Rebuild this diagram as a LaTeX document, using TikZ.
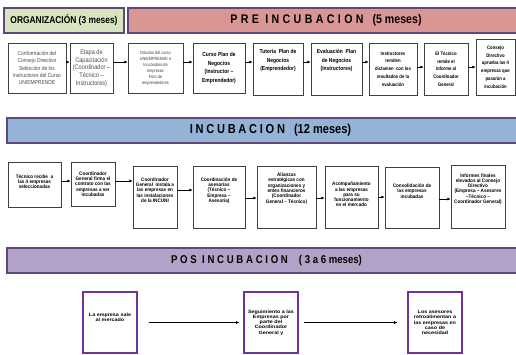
\documentclass[tikz,border=0pt]{standalone}
\usepackage{fontspec}
\setmainfont{Liberation Sans}[FakeStretch=0.85]
\newfontfamily\rowtwo{Liberation Sans}[FakeStretch=0.92]
\newfontfamily\widefont{Liberation Sans}[FakeStretch=1.15]
\usetikzlibrary{arrows.meta}
\definecolor{orgfill}{HTML}{D7E4BD}
\definecolor{prefill}{HTML}{D99694}
\definecolor{incfill}{HTML}{95B3D7}
\definecolor{posfill}{HTML}{B3A2C7}
\definecolor{bandline}{HTML}{5F497A}
\definecolor{posline}{HTML}{7030A0}
\definecolor{boxline}{HTML}{404040}
\newcommand\padbelow[1]{\rule[-#1]{0pt}{#1}}
\tikzset{
  band/.style={draw=bandline, line width=1.6pt, inner sep=0pt},
  box/.style={draw=boxline, line width=0.8pt, fill=white, align=center, inner sep=1pt},
  rowone/.style={box, font=\bfseries\fontsize{5.8}{8.7}\selectfont},
  rowonesmall/.style={box, font=\bfseries\fontsize{5}{7.8}\selectfont},
  rowtwobox/.style={box, font=\rowtwo\bfseries\fontsize{5}{5.3}\selectfont},
  posbox/.style={draw=posline, line width=1.3pt, fill=white, align=center, inner sep=1pt,
    minimum width=54pt, minimum height=61pt, font=\widefont\bfseries\fontsize{4.7}{5.2}\selectfont},
  arr/.style={-{Latex[length=3.2pt,width=3pt]}, line width=0.6pt, black},
}
\begin{document}
\begin{tikzpicture}[x=1pt,y=-1pt]
\useasboundingbox (0,0) rectangle (516,354);
% banners
\node[band, fill=orgfill, minimum width=120pt, minimum height=25pt,
  font=\bfseries\fontsize{9.9}{10}\selectfont] (org) at (64,20.5) {ORGANIZACIÓN (3 meses)};
\node[band, fill=prefill, minimum width=392pt, minimum height=25pt,
  font=\bfseries\fontsize{12.5}{13}\selectfont] (pre) at (324,20.5)
  {\hspace*{4pt}{\addfontfeature{LetterSpace=27}PRE INCUBACION}\hspace{9pt}(5 meses)};
\node[band, fill=incfill, minimum width=513pt, minimum height=25pt,
  font=\bfseries\fontsize{13}{13}\selectfont] (inc) at (263.5,130.5)
  {\hspace*{14pt}{\addfontfeature{LetterSpace=21}INCUBACION}\hspace{9pt}(12 meses)};
\node[band, fill=posfill, minimum width=513pt, minimum height=25pt,
  font=\bfseries\fontsize{11.3}{12}\selectfont] (pos) at (263.5,260.5)
  {\hspace*{6pt}{\addfontfeature{LetterSpace=24}POS INCUBACION}\hspace{11pt}( 3 a 6 meses)};
% row 1
\node[box, minimum width=58pt, minimum height=50pt, text=black!70,
  font=\fontsize{5.8}{7.3}\selectfont] (a1) at (37,68)
  {Conformación del\\Consejo Directivo\\Selección de los\\instructores del Curso\\UNIEMPRENDE};
\node[box, minimum width=43pt, minimum height=50pt, text=black!70,
  font=\fontsize{6.6}{7.7}\selectfont] (a2) at (91.5,68)
  {Etapa de\\Capacitación\\(Coordinador –\\Técnico –\\Instructores)};
\node[box, minimum width=55pt, minimum height=50pt, text=black!75,
  font=\fontsize{4.5}{6}\selectfont] (a3) at (155.5,68)
  {Difusión del curso\\UNIEMPRENDE e\\Incubadora de\\empresas\\Foro de\\emprendedores};
\node[rowone, minimum width=52pt, minimum height=50pt] (a4) at (219,68)
  {Curso Plan de\\Negocios\\(Instructor –\\Emprendedor)};
\node[rowone, minimum width=50pt, minimum height=52pt] (a5) at (278,69)
  {Tutoría\ \ Plan de\\Negocios\\(Emprendedor)\padbelow{18pt}};
\node[rowone, minimum width=51pt, minimum height=52pt] (a6) at (336.5,69)
  {Evaluación\ \ Plan\\de Negocios\\(Instructores)\padbelow{18pt}};
\node[rowonesmall, minimum width=48pt, minimum height=52pt] (a7) at (393,69)
  {Instructores\\remiten\\dictamen\ \ con los\\resultados de la\\evaluación};
\node[rowonesmall, minimum width=44pt, minimum height=52pt] (a8) at (446,69)
  {El Técnico\\remite el\\informe al\\Coordinador\\General};
\node[rowonesmall, minimum width=39pt, minimum height=56pt] (a9) at (495.5,67)
  {Consejo\\Directivo\\aprueba las 4\\empresas que\\pasarán a\\incubación};
% row 2
\node[rowtwobox, minimum width=53pt, minimum height=45pt] (b1) at (34.5,184.5)
  {Técnico recibe\ \ a\\las 4 empresas\\seleccionadas\padbelow{6pt}};
\node[rowtwobox, minimum width=44pt, minimum height=44pt] (b2) at (93,184)
  {Coordinador\\General firma el\\contrato con las\\empresas a ser\\incubadas};
\node[rowtwobox, minimum width=44pt, minimum height=62pt] (b3) at (155,197)
  {Coordinador\\General\ \ instala a\\las empresas en\\las instalaciones\\de la INCUNI\padbelow{14pt}};
\node[rowtwobox, minimum width=52pt, minimum height=62pt] (b4) at (219,197)
  {Coordinación de\\asesorías\\(Técnico –\\Empresa –\\Asesoría)\padbelow{14pt}};
\node[rowtwobox, minimum width=59pt, minimum height=62pt] (b5) at (286.5,197)
  {Alianzas\\estratégicas con\\organizaciones y\\entes financieros\\(Coordinador\\General – Técnico)\padbelow{18pt}};
\node[rowtwobox, minimum width=53pt, minimum height=62pt] (b6) at (351.5,197)
  {Acompañamiento\\a las empresas\\para su\\funcionamiento\\en el mercado\padbelow{5pt}};
\node[rowtwobox, minimum width=54pt, minimum height=61pt] (b7) at (412,197.5)
  {Consolidación de\\las empresas\\incubadas\padbelow{13pt}};
\node[rowtwobox, minimum width=54pt, minimum height=63pt] (b8) at (478,196.5)
  {Informes finales\\elevados al Consejo\\Directivo\\(Empresa – Asesores\\–Técnico –\\Coordinador General)\padbelow{16pt}};
% row 3
\node[posbox] (c1) at (110,322.5) {La empresa sale\\al mercado\padbelow{11pt}};
\node[posbox] (c2) at (271,322.5) {Seguimiento a las\\Empresas por\\parte del\\Coordinador\\General y};
\node[posbox] (c3) at (435,322.5) {Los asesores\\retroalimentan a\\las empresas en\\caso de\\necesidad};
% arrow start points
\path ([yshift=6pt]a1.east) coordinate (p1) ([yshift=6pt]a2.east) coordinate (p2)
      ([yshift=6pt]a3.east) coordinate (p3) ([yshift=6pt]a4.east) coordinate (p4)
      ([yshift=7pt]a5.east) coordinate (p5) ([yshift=7pt]a6.east) coordinate (p6)
      ([yshift=2pt]a7.east) coordinate (p7) ([yshift=2pt]a8.east) coordinate (p8);
\draw[arr] (p1) -- (p1 -| a2.west);
\draw[arr] (p2) -- (p2 -| a3.west);
\draw[arr] (p3) -- (p3 -| a4.west);
\draw[arr] (p4) -- (p4 -| a5.west);
\draw[arr] (p5) -- (p5 -| a6.west);
\draw[arr] (p6) -- (p6 -| a7.west);
\draw[arr] (p7) -- (p7 -| a8.west);
\draw[arr] (p8) -- (p8 -| a9.west);
\path ([yshift=3.5pt]b1.east) coordinate (q1) ([yshift=3pt]b2.east) coordinate (q2)
      ([yshift=7pt]b3.east) coordinate (q3) ([yshift=-1pt]b4.east) coordinate (q4)
      ([yshift=-1pt]b5.east) coordinate (q5) (b6.east) coordinate (q6)
      ([yshift=-1.5pt]b7.east) coordinate (q7);
\draw[arr] (q1) -- (q1 -| b2.west);
\draw[arr] (q2) -- (q2 -| b3.west);
\draw[arr] (q3) -- (q3 -| b4.west);
\draw[arr] (q4) -- (q4 -| b5.west);
\draw[arr] (q5) -- (q5 -| b6.west);
\draw[arr] (q6) -- (q6 -| b7.west);
\draw[arr] (q7) -- (q7 -| b8.west);
\draw[arr, shorten <=11pt, shorten >=4pt] (c1) -- (c2);
\draw[arr, shorten <=5pt, shorten >=10pt] (c2) -- (c3);
\end{tikzpicture}
\end{document}
